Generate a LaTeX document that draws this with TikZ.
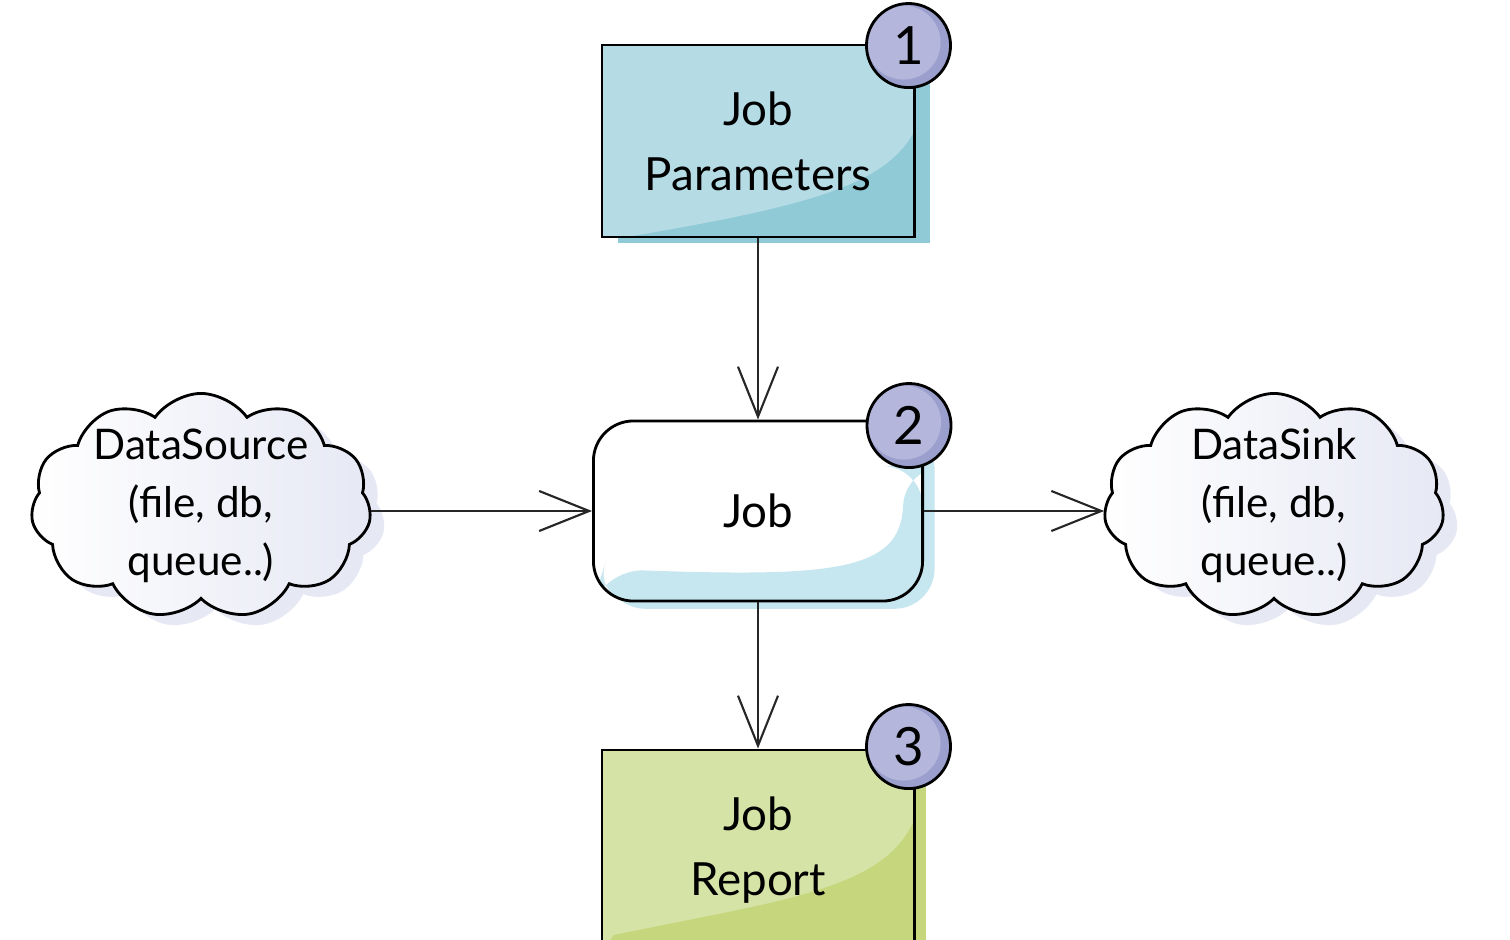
\documentclass[tikz,border=0pt]{standalone}
\usepackage{fontspec}
\setmainfont{Lato}
\usetikzlibrary{arrows.meta, calc, shapes.symbols, shadows, positioning}
\definecolor{paramlight}{HTML}{B5DCE5}
\definecolor{paramdark}{HTML}{90CAD6}
\definecolor{jobshade}{HTML}{C6E6F0}
\definecolor{reportlight}{HTML}{D6E3A6}
\definecolor{reportdark}{HTML}{C5D67C}
\definecolor{badgelight}{HTML}{B4B7DB}
\definecolor{badgedark}{HTML}{9A9FCD}
\definecolor{cloudshade}{HTML}{E6E8F4}
\tikzset{
  >={Straight Barb[length=5mm,width=4mm]},
  % Testo
  hand text/.style={font=\fontsize{13}{18.5}\selectfont, align=center},
  % Fogli
  sheet/.style={draw, line width=0.8pt, minimum width=3.12cm, inner sep=0pt, hand text},
  jobbox/.style={draw, line width=0.8pt, rounded corners=0.4cm, minimum width=3.29cm,
    minimum height=1.8cm, fill=white, hand text,
    drop shadow={shadow xshift=3.4pt, shadow yshift=-2.2pt, fill=jobshade, opacity=1}},
  % Nuvole
  cloudbox/.style={cloud, draw, line width=0.8pt, cloud puffs=11, cloud puff arc=110,
    cloud ignores aspect, minimum width=3.4cm, minimum height=2.25cm,
    inner xsep=-0.12cm, inner ysep=-0.3cm,
    left color=white, middle color=white, right color=cloudshade,
    font=\fontsize{12}{16.5}\selectfont, align=center,
    drop shadow={shadow xshift=4pt, shadow yshift=-3pt, fill=cloudshade, opacity=1}},
  % Numeri
  badge/.style={circle, draw, line width=0.8pt, fill=badgedark, minimum size=0.84cm,
    inner sep=0pt, font=\fontsize{15}{15}\selectfont,
    path picture={\fill[badgelight] ($(path picture bounding box.center)+(-5,-3)$) circle (0.37cm);}},
  % Connessioni
  connect arrow/.style={->, line width=0.6pt, black!85}
}

\begin{document}
\begin{tikzpicture}[x=0.01cm, y=-0.01cm]
  \useasboundingbox (0,0) rectangle (1510,940);
  % fogli
  \node[sheet, minimum height=1.92cm, fill=paramlight,
    drop shadow={shadow xshift=4.5pt, shadow yshift=-1.7pt, fill=paramdark, opacity=1},
    path picture={\fill[paramdark] ($(path picture bounding box.south west)+(25,0)$)
      .. controls ($(path picture bounding box.south west)+(200,-30)$)
      and ($(path picture bounding box.south east)+(-30,-50)$)
      .. ($(path picture bounding box.south east)+(0,-105)$)
      -- (path picture bounding box.south east) -- cycle;}]
    (params) at (758,141) {Job\\Parameters};
  \node[jobbox,
    path picture={\fill[jobshade] ($(path picture bounding box.south west)+(10,-32)$)
      .. controls ($(path picture bounding box.south west)+(240,-24)$)
      and ($(path picture bounding box.south east)+(-22,-30)$)
      .. ($(path picture bounding box.south east)+(-18,-135)$)
      -- ($(path picture bounding box.south east)+(0,-135)$)
      -- (path picture bounding box.south east)
      -- (path picture bounding box.south west) -- cycle;}]
    (job) at (758,511) {Job};
  \node[sheet, minimum height=2.0cm, fill=reportlight,
    drop shadow={shadow xshift=3.5pt, shadow yshift=-1.7pt, fill=reportdark, opacity=1},
    path picture={\fill[reportdark] ($(path picture bounding box.south west)+(12,-15)$)
      .. controls ($(path picture bounding box.south west)+(180,-50)$)
      and ($(path picture bounding box.south east)+(-30,-60)$)
      .. ($(path picture bounding box.south east)+(0,-130)$)
      -- (path picture bounding box.south east)
      -- (path picture bounding box.south west) -- cycle;}]
    (report) at (758,850) {Job\\Report};
  % nuvole
  \node[cloudbox] (source) at (201,506) {DataSource\\(file, db,\\queue..)};
  \node[cloudbox] (sink) at (1274,506) {DataSink\\(file, db,\\queue..)};
  % numeri
  \node[badge] (badge1) at ([shift={(-7,2)}]params.north east) {1};
  \node[badge] (badge2) at ([shift={(-15,6)}]job.north east) {2};
  \node[badge] (badge3) at ([shift={(-7,-2)}]report.north east) {3};
  % frecce
  \draw[connect arrow] (source.east |- job.west) -- (job.west);
  \draw[connect arrow] (job.east) -- (sink.west |- job.east);
  \draw[connect arrow] (params.south) -- (job.north);
  \draw[connect arrow] (job.south) -- (report.north);
\end{tikzpicture}
\end{document}
